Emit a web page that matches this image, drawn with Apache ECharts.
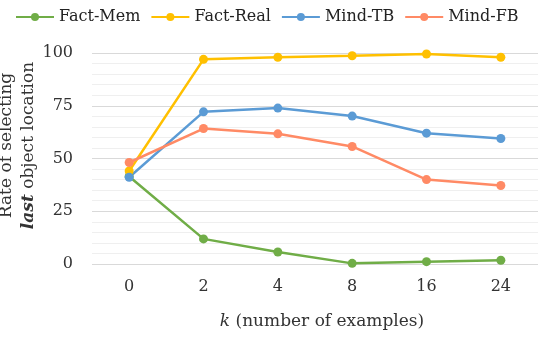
<!DOCTYPE html>
<html>
<head>
<meta charset="utf-8">
<script src="https://cdn.jsdelivr.net/npm/echarts@6/dist/echarts.min.js"></script>
<style>
  html, body { margin: 0; padding: 0; background: #fff; }
  #chart { width: 538px; height: 341px; }
</style>
</head>
<body>
<div id="chart"></div>
<script>
  // k values on the x axis
  var kLabels = ['0', '2', '4', '8', '16', '24'];
  // rate of selecting last object location (%)
  var factMem = [41.5, 11.9, 5.7, 0.3, 1.1, 1.8];
  var factReal = [44.1, 97.0, 98.0, 98.7, 99.5, 98.0];
  var mindTB = [41.1, 72.1, 73.9, 70.1, 62.0, 59.5];
  var mindFB = [48.1, 64.2, 61.7, 55.7, 40.0, 37.2];

  var serif = 'DejaVu Serif';

  function makeSeries(name, data, color) {
    return {
      name: name,
      type: 'line',
      data: data,
      symbol: 'circle',
      symbolSize: 9,
      lineStyle: { width: 2.5, color: color },
      itemStyle: { color: color },
      animation: false
    };
  }

  var chart = echarts.init(document.getElementById('chart'));
  var options = {
    backgroundColor: '#fff',
    legend: {
      top: 4,
      left: 10,
      width: 528,
      itemWidth: 38,
      itemHeight: 10,
      itemGap: 10,
      textStyle: { fontFamily: serif, fontSize: 16, color: '#222' },
      data: ['Fact-Mem', 'Fact-Real', 'Mind-TB', 'Mind-FB']
    },
    grid: {
      left: 92,
      right: 0,
      top: 53,
      bottom: 77,
      outerBoundsMode: 'none',
      containLabel: false
    },
    xAxis: {
      type: 'category',
      data: kLabels,
      boundaryGap: true,
      axisLine: { show: false },
      axisTick: { show: false },
      axisLabel: { fontFamily: serif, fontSize: 16, color: '#333', margin: 15 },
      name: '{i|k} (number of examples)',
      nameLocation: 'middle',
      nameMoveOverlap: false,
      nameGap: 49,
      nameTextStyle: {
        fontFamily: serif, fontSize: 17, color: '#333',
        padding: [0, 0, 0, 14],
        rich: { i: { fontFamily: serif, fontSize: 17, fontStyle: 'italic', color: '#333' } }
      }
    },
    yAxis: {
      type: 'value',
      min: 0,
      max: 100,
      interval: 25,
      axisLine: { show: false },
      axisTick: { show: false },
      axisLabel: { fontFamily: serif, fontSize: 16, color: '#333', margin: 19 },
      splitLine: { lineStyle: { color: '#D9D9D9', width: 1.2 } },
      minorTick: { show: false, splitNumber: 5 },
      minorSplitLine: { show: true, lineStyle: { color: '#EFEFEF', width: 1 } },
      name: '{n|Rate of selecting}\n{b|last}{n| object location}',
      nameLocation: 'middle',
      nameRotate: 90,
      nameMoveOverlap: false,
      nameGap: 52,
      nameTextStyle: {
        fontFamily: serif, fontSize: 17, color: '#333', lineHeight: 22,
        padding: [0, 0, 0, 26],
        rich: {
          n: { fontFamily: serif, fontSize: 17, color: '#333', lineHeight: 22 },
          b: { fontFamily: serif, fontSize: 17, fontStyle: 'italic', fontWeight: 'bold', color: '#333', lineHeight: 22 }
        }
      }
    },
    series: [
      makeSeries('Fact-Mem', factMem, '#70AD47'),
      makeSeries('Fact-Real', factReal, '#FFC000'),
      makeSeries('Mind-TB', mindTB, '#5B9BD5'),
      makeSeries('Mind-FB', mindFB, '#FF8A65')
    ]
  };
  chart.setOption(options);
</script>
</body>
</html>
